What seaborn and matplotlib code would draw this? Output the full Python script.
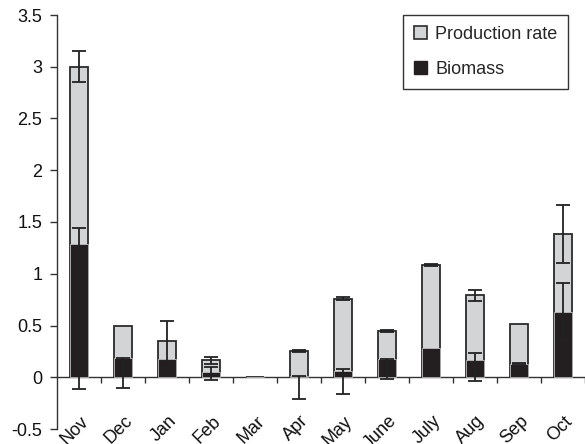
import matplotlib
matplotlib.use("Agg")
import matplotlib.pyplot as plt
import matplotlib.transforms as mtransforms
from matplotlib.patches import Patch
from matplotlib.ticker import FuncFormatter
import numpy as np
import seaborn as sns

# Monthly values (stacked: biomass at the bottom, production rate on top)
months = ["Nov", "Dec", "Jan", "Feb", "Mar", "Apr", "May", "June", "July", "Aug", "Sep", "Oct"]
biomass = [1.29, 0.19, 0.175, 0.055, 0.005, 0.015, 0.06, 0.175, 0.285, 0.17, 0.125, 0.635]
production = [1.71, 0.305, 0.175, 0.11, 0.0, 0.235, 0.70, 0.275, 0.80, 0.62, 0.385, 0.745]

# Error bar extents (upper / lower) for each series
prod_err_up = [0.15, 0.0, 0.19, 0.035, 0.0, 0.01, 0.015, 0.01, 0.01, 0.05, 0.0, 0.28]
prod_err_down = [0.15, 0.0, 0.19, 0.035, 0.0, 0.01, 0.015, 0.01, 0.01, 0.05, 0.0, 0.28]
bio_err_up = [0.155, 0.0, 0.0, 0.04, 0.0, 0.0, 0.015, 0.005, 0.0, 0.065, 0.01, 0.28]
bio_err_down = [1.40, 0.29, 0.0, 0.08, 0.0, 0.225, 0.22, 0.19, 0.0, 0.21, 0.0, 0.28]

yticks = [-0.5, 0, 0.5, 1, 1.5, 2, 2.5, 3, 3.5]

GREY = "#d3d4d6"
BLACK = "#231f20"
EDGE = "#2b2b2b"

sns.set_style("ticks")
plt.rcParams["font.family"] = ["Liberation Sans", "DejaVu Sans"]

fig = plt.figure(figsize=(5.85, 4.44), dpi=100)
ax = fig.add_axes([57 / 585, 15 / 444, 528 / 585, 414 / 444])

totals = [b + p for b, p in zip(biomass, production)]
x = np.arange(len(months))

sns.barplot(x=months, y=totals, order=months, color=GREY, saturation=1,
            width=0.4, edgecolor=EDGE, linewidth=1.3, errorbar=None,
            ax=ax, zorder=2)
sns.barplot(x=months, y=biomass, order=months, color=BLACK, saturation=1,
            width=0.4, edgecolor="#bdbdbd", linewidth=0.6, errorbar=None,
            ax=ax, zorder=3)


def draw_errors(tops, up, down):
    keep = [i for i in range(len(tops)) if up[i] > 0 or down[i] > 0]
    ax.errorbar(x[keep], np.array(tops)[keep],
                yerr=[np.array(down)[keep], np.array(up)[keep]],
                fmt="none", ecolor="#222222", elinewidth=1.3,
                capsize=4.7, capthick=1.3, zorder=4)


draw_errors(totals, prod_err_up, prod_err_down)
draw_errors(biomass, bio_err_up, bio_err_down)

# Axes
ax.set_xlim(-0.5, 11.5)
ax.set_ylim(-0.5, 3.5)
ax.set_yticks(yticks)
ax.yaxis.set_major_formatter(FuncFormatter(lambda v, _: f"{v:g}"))
ax.set_xlabel("")
ax.set_ylabel("")

for side in ("top", "right"):
    ax.spines[side].set_visible(False)
ax.spines["bottom"].set_position(("data", 0))
for side in ("left", "bottom"):
    ax.spines[side].set_linewidth(1.0)
    ax.spines[side].set_color("#333333")
ax.spines["bottom"].set_zorder(1)

ax.tick_params(axis="y", direction="out", length=5, width=1.0, color="#333333",
               labelsize=13, pad=5.5, labelcolor="#111111")
ax.set_xticks(x)
ax.set_xticklabels(months)
ax.set_xticks(np.arange(0.5, 11.51, 1.0), minor=True)
ax.tick_params(axis="x", which="major", length=0, labelsize=13, pad=25.5,
               labelcolor="#111111")
ax.tick_params(axis="x", which="minor", direction="out", length=4.3,
               width=1.0, color="#333333")

# Month names slant up to the right, ending just right of each bar
shift = mtransforms.ScaledTranslation(0.01, 0.0, fig.dpi_scale_trans)
for lbl in ax.get_xticklabels():
    lbl.set_rotation(45)
    lbl.set_ha("right")
    lbl.set_va("top")
    lbl.set_rotation_mode("anchor")
    lbl.set_transform(lbl.get_transform() + shift)

handles = [
    Patch(facecolor=GREY, edgecolor=EDGE, linewidth=1.2, label="Production rate"),
    Patch(facecolor=BLACK, edgecolor=BLACK, linewidth=1.0, label="Biomass"),
]
leg = ax.legend(handles=handles, loc="upper right", bbox_to_anchor=(0.968, 1.0),
                borderaxespad=0, fontsize=13, frameon=True, fancybox=False,
                framealpha=1, edgecolor="#333333", handlelength=0.7,
                handleheight=0.7, handletextpad=0.45, labelspacing=1.0,
                borderpad=0.6)
leg.get_frame().set_linewidth(1.0)

fig.savefig("out.png", dpi=100)
